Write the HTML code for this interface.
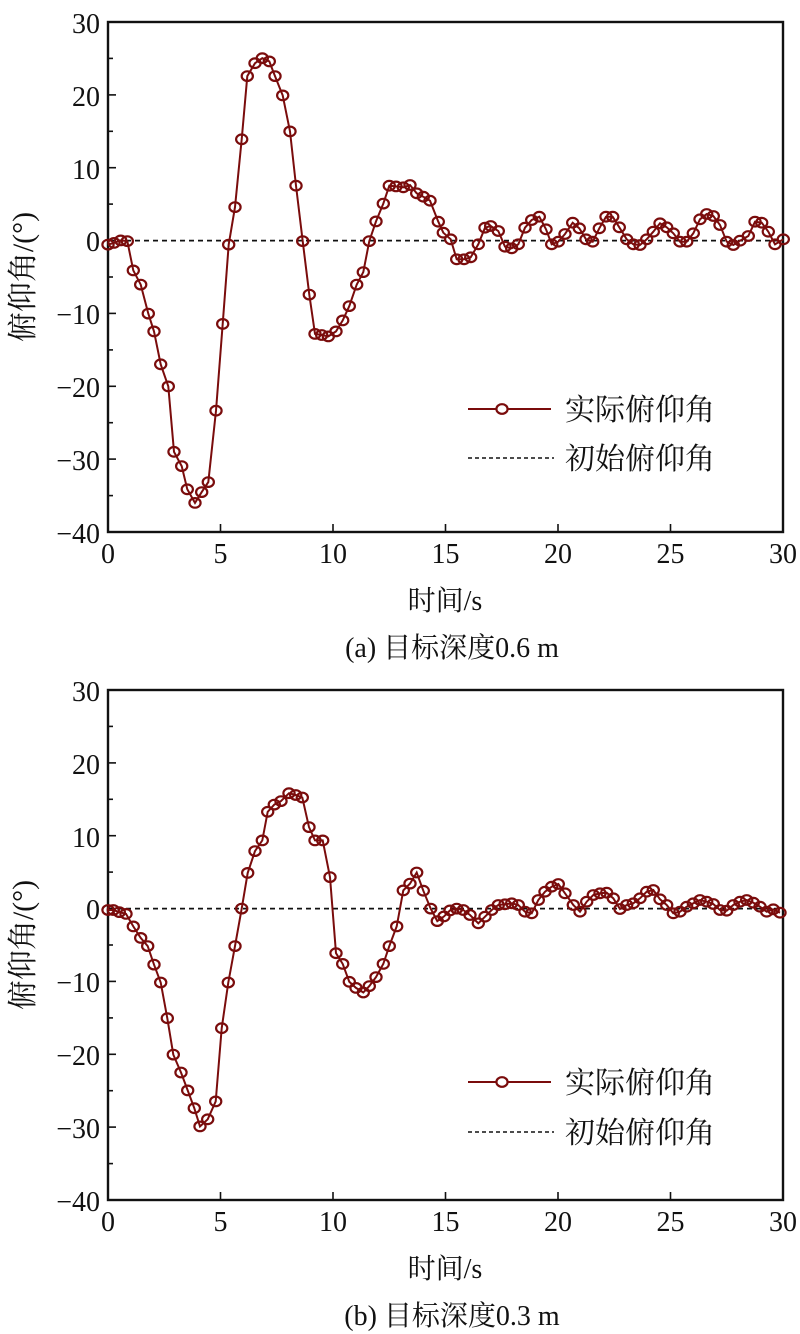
<!DOCTYPE html>
<html><head><meta charset="utf-8"><style>
html,body{margin:0;padding:0;background:#fff;}
svg{display:block;}
text{font-family:"Liberation Serif","Noto Serif CJK SC","Noto Sans CJK SC",serif;fill:#111;}
</style></head><body>
<svg width="800" height="1334" viewBox="0 0 800 1334" xmlns="http://www.w3.org/2000/svg">
<defs>
<marker id="m" markerUnits="userSpaceOnUse" markerWidth="16" markerHeight="16" refX="8" refY="8" viewBox="0 0 16 16">
<ellipse cx="8" cy="8" rx="5.6" ry="4.8" fill="none" stroke="#7a0c0c" stroke-width="2.2"/>
</marker>
</defs>

<!-- ===== Plot A ===== -->
<g>
<rect x="108" y="22" width="675" height="510" fill="none" stroke="#111" stroke-width="2.4"/>
<g stroke="#111" stroke-width="1.6">
<line x1="108" y1="22" x2="116" y2="22"/><line x1="108" y1="58.4" x2="113" y2="58.4"/>
<line x1="108" y1="94.9" x2="116" y2="94.9"/><line x1="108" y1="131.3" x2="113" y2="131.3"/>
<line x1="108" y1="167.7" x2="116" y2="167.7"/><line x1="108" y1="204.1" x2="113" y2="204.1"/>
<line x1="108" y1="240.6" x2="116" y2="240.6"/><line x1="108" y1="277" x2="113" y2="277"/>
<line x1="108" y1="313.4" x2="116" y2="313.4"/><line x1="108" y1="349.9" x2="113" y2="349.9"/>
<line x1="108" y1="386.3" x2="116" y2="386.3"/><line x1="108" y1="422.7" x2="113" y2="422.7"/>
<line x1="108" y1="459.1" x2="116" y2="459.1"/><line x1="108" y1="495.6" x2="113" y2="495.6"/>
<line x1="220.5" y1="532" x2="220.5" y2="524"/><line x1="333" y1="532" x2="333" y2="524"/>
<line x1="445.5" y1="532" x2="445.5" y2="524"/><line x1="558" y1="532" x2="558" y2="524"/>
<line x1="670.5" y1="532" x2="670.5" y2="524"/>
</g>
<g font-size="28" text-anchor="end">
<text x="100" y="33">30</text><text x="100" y="106">20</text><text x="100" y="179">10</text>
<text x="100" y="251">0</text><text x="100" y="324">−10</text><text x="100" y="397">−20</text>
<text x="100" y="470">−30</text><text x="100" y="543">−40</text>
</g>
<g font-size="28" text-anchor="middle">
<text x="108" y="563">0</text><text x="220.5" y="563">5</text><text x="333" y="563">10</text>
<text x="445.5" y="563">15</text><text x="558" y="563">20</text><text x="670.5" y="563">25</text><text x="783" y="563">30</text>
</g>
<line x1="108" y1="240.6" x2="783" y2="240.6" stroke="#111" stroke-width="1.8" stroke-dasharray="5,4"/>
<polyline fill="none" stroke="#7a0c0c" stroke-width="2" marker-start="url(#m)" marker-mid="url(#m)" marker-end="url(#m)" points="108,244.6 114,242.9 120.7,240.4 127.3,241.1 133.3,270.4 140.7,284.6 148.3,313.6 154,331.4 160.7,364.3 168.3,386.4 174,451.8 181.7,466.1 187.3,489.3 195,502.9 201.7,492.1 208.3,482.1 216,410.7 222.7,323.9 228.7,244.6 235,207.1 241.7,139.3 247.3,76.1 255,63.2 262.3,58.2 269.3,61.4 275,76.1 282.7,95.4 290,131.4 296,185.7 302.7,241.1 309.3,294.6 315,333.9 321.7,335 328.3,336.4 336,331.4 342.7,320.4 349.3,306.1 356.7,284.6 363.3,272.1 369.3,241.1 376,221.4 383.3,203.6 389.3,185.7 396,186.4 403.3,187.3 410,185 416.7,193.3 423.3,196.7 430,200.7 438.3,221.7 443.3,232.7 450.7,239.3 456.7,259.3 464,259.3 470.7,257.3 478.3,244.3 485,227.7 490.7,226 498.3,231 505,246.7 511.7,248.3 518.3,244.3 525,227.7 531.7,220 539.3,216.7 546,229.3 551.7,244.3 558.3,241.7 565,234 572.7,222.7 579.3,228.3 586,239.3 592.7,241.7 599.3,228.3 606,216.7 612.7,216.7 619.3,227.3 626.7,239.3 633.3,244.3 640,245 646.7,239.3 653.3,231.7 660,223.3 666.7,227.3 673.3,233.3 680,241.7 686.7,241.7 693.3,233.3 700,219.3 706.7,214 713.3,216 720,225 726.7,241.7 733.3,245 740,240.7 748.3,236 755,221.7 761.7,222.7 768.3,231.7 775,244.3 783.3,239.3"/>
<line x1="468" y1="409" x2="551" y2="409" stroke="#7a0c0c" stroke-width="2"/>
<ellipse cx="502" cy="409" rx="5.6" ry="4.8" fill="#fff" stroke="#7a0c0c" stroke-width="2.2"/>
<line x1="468" y1="458" x2="554" y2="458" stroke="#111" stroke-width="1.6" stroke-dasharray="4,3"/>
<g font-size="30"><text x="565" y="420">实际俯仰角</text><text x="565" y="469">初始俯仰角</text></g>
<text font-size="28" text-anchor="middle" x="445" y="610">时间/s</text>
<text font-size="28" text-anchor="middle" x="452" y="657">(a) 目标深度0.6 m</text>
<text font-size="30" text-anchor="middle" transform="translate(33,277) rotate(-90)">俯仰角/(°)</text>
</g>

<!-- ===== Plot B ===== -->
<g>
<rect x="108" y="690" width="675" height="510" fill="none" stroke="#111" stroke-width="2.4"/>
<g stroke="#111" stroke-width="1.6">
<line x1="108" y1="690" x2="116" y2="690"/><line x1="108" y1="726.4" x2="113" y2="726.4"/>
<line x1="108" y1="762.9" x2="116" y2="762.9"/><line x1="108" y1="799.3" x2="113" y2="799.3"/>
<line x1="108" y1="835.7" x2="116" y2="835.7"/><line x1="108" y1="872.1" x2="113" y2="872.1"/>
<line x1="108" y1="908.6" x2="116" y2="908.6"/><line x1="108" y1="945" x2="113" y2="945"/>
<line x1="108" y1="981.4" x2="116" y2="981.4"/><line x1="108" y1="1017.9" x2="113" y2="1017.9"/>
<line x1="108" y1="1054.3" x2="116" y2="1054.3"/><line x1="108" y1="1090.7" x2="113" y2="1090.7"/>
<line x1="108" y1="1127.1" x2="116" y2="1127.1"/><line x1="108" y1="1163.6" x2="113" y2="1163.6"/>
<line x1="220.5" y1="1200" x2="220.5" y2="1192"/><line x1="333" y1="1200" x2="333" y2="1192"/>
<line x1="445.5" y1="1200" x2="445.5" y2="1192"/><line x1="558" y1="1200" x2="558" y2="1192"/>
<line x1="670.5" y1="1200" x2="670.5" y2="1192"/>
</g>
<g font-size="28" text-anchor="end">
<text x="100" y="701">30</text><text x="100" y="774">20</text><text x="100" y="847">10</text>
<text x="100" y="919">0</text><text x="100" y="992">−10</text><text x="100" y="1065">−20</text>
<text x="100" y="1138">−30</text><text x="100" y="1211">−40</text>
</g>
<g font-size="28" text-anchor="middle">
<text x="108" y="1231">0</text><text x="220.5" y="1231">5</text><text x="333" y="1231">10</text>
<text x="445.5" y="1231">15</text><text x="558" y="1231">20</text><text x="670.5" y="1231">25</text><text x="783" y="1231">30</text>
</g>
<line x1="108" y1="908.6" x2="783" y2="908.6" stroke="#111" stroke-width="1.8" stroke-dasharray="5,4"/>
<polyline fill="none" stroke="#7a0c0c" stroke-width="2" marker-start="url(#m)" marker-mid="url(#m)" marker-end="url(#m)" points="108,910 113.3,910 119.3,912.1 126,913.9 133.3,926.4 140.7,937.9 147.7,946.1 154,964.6 160.7,982.5 167.3,1018.2 173.3,1054.6 181,1072.5 187.7,1090.4 194.3,1108.2 200,1126.4 207.7,1119.3 215.7,1101.4 221.7,1028.2 228.3,982.5 235,946.1 241.7,908.6 247.7,872.9 255,851.1 262.3,840.4 267.7,811.8 274.3,804.6 281,801.1 289,793.2 295.7,795 302.3,797.5 309,827.1 315,840.4 322.7,840.4 330,877.1 336,953.2 342.7,963.9 349.3,981.8 356,987.9 363.3,992.5 369.3,986.1 376,977.1 383.3,963.9 389.3,946.1 396.7,926.4 403.3,890.4 410,883.6 416.7,872.5 423.3,890.7 430.7,908.6 437.3,921.1 444,916.4 450,910.4 456.7,908.6 463.3,910 470,915 478.3,923.3 485,916.7 491.7,910 498.3,905 505,904.3 511.7,903.3 518.3,905 525,911.7 531.7,913.3 538.3,900 545,891.7 551.7,886.7 558.3,884 565,893.3 573.3,905 580,911.7 586.7,901.7 593.3,895 600,893.3 606.7,892.7 613.3,898.3 620,909 626.7,905 633.3,903.3 640,898.3 646.7,891.7 653.3,890 660,899.3 666.7,905 673.3,913.3 680,911.7 686.7,906.7 693.3,903.3 700,900 706.7,901.7 713.3,904 720,910 726.7,910.7 733.3,905 740,901.7 746.7,900 753.3,902.7 760,906.7 766.7,911.7 773.3,909.3 780,912.7"/>
<line x1="468" y1="1082" x2="551" y2="1082" stroke="#7a0c0c" stroke-width="2"/>
<ellipse cx="502" cy="1082" rx="5.6" ry="4.8" fill="#fff" stroke="#7a0c0c" stroke-width="2.2"/>
<line x1="468" y1="1132" x2="554" y2="1132" stroke="#111" stroke-width="1.6" stroke-dasharray="4,3"/>
<g font-size="30"><text x="565" y="1093">实际俯仰角</text><text x="565" y="1143">初始俯仰角</text></g>
<text font-size="28" text-anchor="middle" x="445" y="1278">时间/s</text>
<text font-size="28" text-anchor="middle" x="452" y="1325">(b) 目标深度0.3 m</text>
<text font-size="30" text-anchor="middle" transform="translate(33,945) rotate(-90)">俯仰角/(°)</text>
</g>
</svg>
</body></html>
